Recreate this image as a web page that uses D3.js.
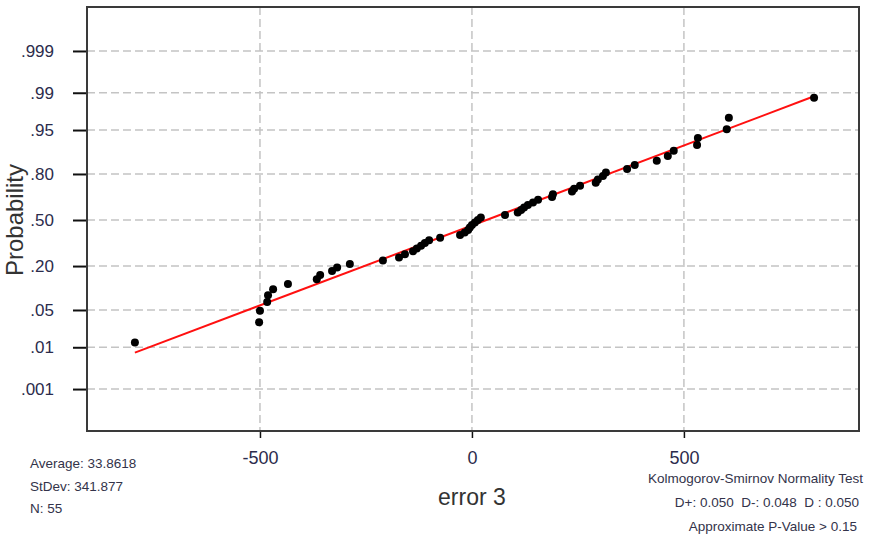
<!DOCTYPE html>
<html>
<head>
<meta charset="utf-8">
<script src="https://cdn.jsdelivr.net/npm/d3@7"></script>
<style>
  body { margin: 0; background: #fff; }
  svg { display: block; }
</style>
</head>
<body>
<svg class="chart" width="872" height="537"></svg>
<script>
// error 3 values, sorted
const errorValues = [
  -795, -502, -500, -483, -481, -469, -434, -366, -358, -330,
  -318, -288, -210, -172, -158, -139, -130, -120, -111, -101,
  -75, -28, -17, -9, -5, 0, 7, 14, 21, 78,
  108, 116, 123, 132, 144, 156, 189, 191, 236, 241,
  255, 292, 297, 309, 316, 366, 384, 436, 462, 476,
  531, 533, 601, 606, 807
];

const probTicks = [0.001, 0.01, 0.05, 0.20, 0.50, 0.80, 0.95, 0.99, 0.999];
const probLabels = ['.001', '.01', '.05', '.20', '.50', '.80', '.95', '.99', '.999'];
const xTicks = [-500, 0, 500];

const statsLines = ['Average: 33.8618', 'StDev: 341.877', 'N: 55'];
const fitMean = 33.8618;
const fitStDev = 341.877;
const testLines = [
  'Kolmogorov-Smirnov Normality Test',
  'D+: 0.050  D-: 0.048  D : 0.050',
  'Approximate P-Value > 0.15'
];

// inverse standard normal cdf (Acklam)
const normInv = p => {
  const a = [-39.69683028665376, 220.9460984245205, -275.9285104469687, 138.3577518672690, -30.66479806614716, 2.506628277459239];
  const b = [-54.47609879822406, 161.5858368580409, -155.6989798598866, 66.80131188771972, -13.28068155288572];
  const c = [-0.007784894002430293, -0.3223964580411365, -2.400758277161838, -2.549732539343734, 4.374664141464968, 2.938163982698783];
  const d = [0.007784695709041462, 0.3224671290700398, 2.445134137142996, 3.754408661907416];
  const pl = 0.02425;
  if (p < pl) {
    const q = Math.sqrt(-2 * Math.log(p));
    return (((((c[0]*q+c[1])*q+c[2])*q+c[3])*q+c[4])*q+c[5]) / ((((d[0]*q+d[1])*q+d[2])*q+d[3])*q+1);
  }
  if (p > 1 - pl) {
    const q = Math.sqrt(-2 * Math.log(1 - p));
    return -(((((c[0]*q+c[1])*q+c[2])*q+c[3])*q+c[4])*q+c[5]) / ((((d[0]*q+d[1])*q+d[2])*q+d[3])*q+1);
  }
  const q = p - 0.5, r = q * q;
  return (((((a[0]*r+a[1])*r+a[2])*r+a[3])*r+a[4])*r+a[5])*q / (((((b[0]*r+b[1])*r+b[2])*r+b[3])*r+b[4])*r+1);
};

const svg = d3.select('.chart');
const width = +svg.attr('width');

const margin = { top: 7, right: 13, bottom: 106, left: 87 };
const innerRight = width - margin.right;
const innerBottom = 537 - margin.bottom;

const plainFont = "'Liberation Sans', Arial, sans-serif";
const labelColor = '#2c2c4c';

const xScale = d3.scaleLinear()
  .domain([-908, 913])
  .range([margin.left, innerRight]);

// y is linear in the normal quantile
const yScale = d3.scaleLinear()
  .domain([-3.857, 3.894])
  .range([innerBottom, margin.top]);

svg.append('rect')
  .attr('width', width).attr('height', 537)
  .attr('fill', '#fff');

// grid
const grid = svg.append('g')
  .attr('stroke', '#c4c4c4')
  .attr('stroke-width', 1.5)
  .attr('stroke-dasharray', '8,4');

grid.selectAll('.hgrid').data(probTicks).join('line')
  .attr('class', 'hgrid')
  .attr('x1', margin.left).attr('x2', innerRight)
  .attr('y1', d => yScale(normInv(d))).attr('y2', d => yScale(normInv(d)));

grid.selectAll('.vgrid').data(xTicks).join('line')
  .attr('class', 'vgrid')
  .attr('x1', d => xScale(d)).attr('x2', d => xScale(d))
  .attr('y1', margin.top).attr('y2', innerBottom);

// axes
const yAxis = d3.axisLeft(yScale)
  .tickValues(probTicks.map(normInv))
  .tickFormat((d, i) => probLabels[i])
  .tickSize(14)
  .tickPadding(19);

svg.append('g')
  .attr('transform', `translate(${margin.left},0)`)
  .call(yAxis)
  .call(g => g.select('.domain').remove())
  .call(g => g.selectAll('line').attr('stroke', '#111').attr('stroke-width', 2))
  .call(g => g.selectAll('text')
    .attr('font-family', plainFont)
    .attr('font-size', 17)
    .attr('fill', labelColor));

const xAxis = d3.axisBottom(xScale)
  .tickValues(xTicks)
  .tickFormat(d => String(d))
  .tickSize(7)
  .tickPadding(13);

svg.append('g')
  .attr('transform', `translate(0,${innerBottom})`)
  .call(xAxis)
  .call(g => g.select('.domain').remove())
  .call(g => g.selectAll('line').attr('stroke', '#111').attr('stroke-width', 1.5))
  .call(g => g.selectAll('text')
    .attr('font-family', plainFont)
    .attr('font-size', 18)
    .attr('fill', labelColor));

// frame
svg.append('rect')
  .attr('x', margin.left).attr('y', margin.top)
  .attr('width', innerRight - margin.left)
  .attr('height', innerBottom - margin.top)
  .attr('fill', 'none')
  .attr('stroke', '#3a3a3a')
  .attr('stroke-width', 2);

// fitted line from the average and stdev
const xMin = d3.min(errorValues);
const xMax = d3.max(errorValues);
svg.append('line')
  .attr('x1', xScale(xMin)).attr('y1', yScale((xMin - fitMean) / fitStDev))
  .attr('x2', xScale(xMax)).attr('y2', yScale((xMax - fitMean) / fitStDev))
  .attr('stroke', '#ff1010')
  .attr('stroke-width', 2);

// points at median-rank plotting positions
const n = errorValues.length;
svg.append('g')
  .selectAll('circle')
  .data(errorValues)
  .join('circle')
    .attr('cx', d => xScale(d))
    .attr('cy', (d, i) => yScale(normInv((i + 1 - 0.3) / (n + 0.4))))
    .attr('r', 4)
    .attr('fill', '#000');

// axis titles
svg.append('text')
  .attr('transform', `translate(23,${yScale(0)}) rotate(-90)`)
  .attr('text-anchor', 'middle')
  .attr('font-family', plainFont)
  .attr('font-size', 24)
  .attr('fill', '#333')
  .text('Probability');

svg.append('text')
  .attr('x', xScale(0)).attr('y', 505)
  .attr('text-anchor', 'middle')
  .attr('font-family', plainFont)
  .attr('font-size', 23)
  .attr('fill', '#333')
  .text('error 3');

// stats block
svg.append('g')
  .selectAll('text')
  .data(statsLines)
  .join('text')
    .attr('x', 30)
    .attr('y', (d, i) => 468 + i * 22.5)
    .attr('font-family', plainFont)
    .attr('font-size', 13.5)
    .attr('fill', '#33334a')
    .text(d => d);

svg.append('g')
  .selectAll('text')
  .data(testLines)
  .join('text')
    .attr('x', (d, i) => [863, 859, 857][i])
    .attr('y', (d, i) => 483 + i * 24)
    .attr('text-anchor', 'end')
    .attr('font-family', plainFont)
    .attr('font-size', 13.5)
    .attr('fill', '#33334a')
    .style('white-space', 'pre')
    .text(d => d);
</script>
</body>
</html>
